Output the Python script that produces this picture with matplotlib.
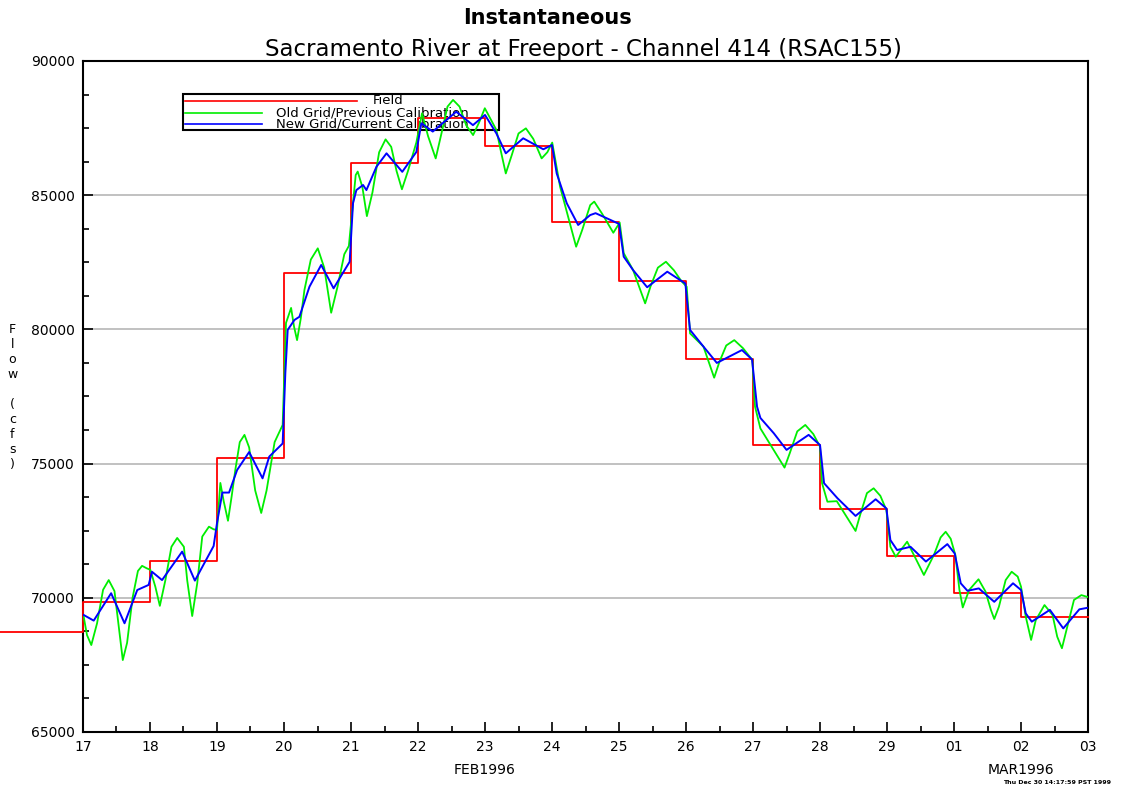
"""Sacramento River at Freeport - instantaneous flow, field vs. old/new calibration."""
import numpy as np
import matplotlib
matplotlib.use("Agg")
import matplotlib.pyplot as plt
from matplotlib.patches import Rectangle
from matplotlib.ticker import MultipleLocator

plt.rcParams["font.family"] = ["DejaVu Sans"]

# ---- Data: time in days since 17 FEB1996 00:00, flow in cfs ----
DAY_LABELS = ["17", "18", "19", "20", "21", "22", "23", "24", "25", "26",
              "27", "28", "29", "01", "02", "03"]

field_t = [-1.26, 0, 1, 2, 3, 4, 5, 6, 7, 8, 9, 10, 11, 12, 13, 14, 15]
field_q = [68730, 69850, 71380, 75200, 82110, 86210, 87860, 86830, 84010,
           81810, 78880, 75690, 73300, 71570, 70190, 69270, 69270]

old_t = [0.01, 0.06, 0.124, 0.21, 0.30, 0.384, 0.47, 0.53, 0.594, 0.658,
         0.74, 0.82, 0.882, 0.95, 1.006, 1.08, 1.147, 1.23, 1.32, 1.406,
         1.506, 1.555, 1.630, 1.705, 1.78, 1.880, 1.95, 2.00, 2.05, 2.10,
         2.164, 2.22, 2.273, 2.34, 2.41, 2.48, 2.57, 2.66, 2.74, 2.86,
         2.98, 3.03, 3.106, 3.15, 3.195, 3.25, 3.305, 3.40, 3.504, 3.60,
         3.704, 3.80, 3.90, 3.968, 4.07, 4.10, 4.17, 4.237, 4.32, 4.42,
         4.516, 4.60, 4.68, 4.76, 4.85, 4.975, 5.06, 5.15, 5.264, 5.35,
         5.44, 5.523, 5.62, 5.72, 5.822, 5.91, 5.997, 6.17, 6.24, 6.31,
         6.40, 6.50, 6.61, 6.72, 6.845, 6.93, 7.003, 7.12, 7.24, 7.36,
         7.45, 7.57, 7.63, 7.75, 7.915, 8.01, 8.07, 8.21, 8.39, 8.47,
         8.58, 8.70, 8.82, 8.93, 9.01, 9.06, 9.26, 9.42, 9.50, 9.60,
         9.72, 9.85, 9.99, 10.03, 10.11, 10.47, 10.55, 10.66, 10.78, 10.90,
         11.0, 11.03, 11.11, 11.25, 11.53, 11.60, 11.70, 11.80, 11.90, 11.99,
         12.05, 12.13, 12.30, 12.42, 12.55, 12.70, 12.80, 12.875, 12.95, 13.02,
         13.08, 13.13, 13.225, 13.365, 13.47, 13.55, 13.60, 13.67, 13.77, 13.86,
         13.95, 14.0, 14.07, 14.15, 14.22, 14.35, 14.47, 14.54, 14.61, 14.69,
         14.79, 14.90, 15.02]
old_q = [69300, 68610, 68240, 69050, 70300, 70660, 70250, 69000, 67680, 68320,
         70000, 71000, 71190, 71100, 71040, 70410, 69700, 70660, 71900, 72230,
         71900, 70660, 69320, 70540, 72280, 72650, 72550, 72530, 74280, 73600,
         72870, 73800, 74760, 75800, 76070, 75600, 74000, 73160, 74000, 75800,
         76440, 80240, 80800, 80100, 79600, 80400, 81470, 82600, 83020, 82300,
         80620, 81600, 82800, 83110, 85750, 85880, 85300, 84220, 85100, 86600,
         87080, 86800, 85900, 85220, 85900, 86960, 88050, 87200, 86370, 87300,
         88300, 88550, 88300, 87600, 87240, 87700, 88240, 87430, 86600, 85810,
         86500, 87300, 87490, 87100, 86370, 86600, 86960, 85320, 84200, 83080,
         83700, 84630, 84760, 84300, 83600, 83980, 82840, 82210, 80970, 81600,
         82300, 82520, 82200, 81800, 81590, 79850, 79360, 78200, 78800, 79400,
         79600, 79300, 78860, 77120, 76310, 74850, 75400, 76200, 76440, 76100,
         75630, 74270, 73580, 73600, 72490, 73100, 73900, 74080, 73800, 73270,
         71900, 71530, 72090, 71500, 70850, 71600, 72250, 72460, 72200, 71590,
         70300, 69640, 70290, 70690, 70230, 69550, 69210, 69670, 70660, 70970,
         70790, 70410, 69300, 68430, 69170, 69730, 69360, 68550, 68120, 68920,
         69920, 70100, 70010]

new_t = [0.01, 0.16, 0.42, 0.62, 0.81, 0.98, 1.03, 1.18, 1.48, 1.67,
         1.95, 2.00, 2.08, 2.18, 2.30, 2.48, 2.68, 2.78, 2.98, 3.02,
         3.055, 3.155, 3.23, 3.38, 3.555, 3.74, 3.98, 4.03, 4.08, 4.18,
         4.23, 4.38, 4.53, 4.765, 4.975, 5.05, 5.22, 5.57, 5.82, 6.0,
         6.17, 6.31, 6.57, 6.87, 7.0, 7.07, 7.22, 7.39, 7.57, 7.65,
         7.87, 8.0, 8.07, 8.21, 8.42, 8.72, 8.99, 9.06, 9.26, 9.46,
         9.835, 9.985, 10.06, 10.11, 10.31, 10.50, 10.83, 11.0, 11.06, 11.26,
         11.53, 11.83, 11.99, 12.05, 12.15, 12.35, 12.58, 12.90, 13.01, 13.10,
         13.20, 13.37, 13.60, 13.88, 14.0, 14.07, 14.16, 14.43, 14.63, 14.87,
         15.02]
new_q = [69360, 69150, 70170, 69050, 70290, 70480, 70970, 70660, 71720, 70640,
         71930, 72780, 73920, 73920, 74760, 75430, 74450, 75260, 75750, 78380,
         79980, 80350, 80470, 81590, 82400, 81530, 82520, 84700, 85190, 85380,
         85190, 86060, 86560, 85870, 86610, 87680, 87370, 88110, 87610, 87990,
         87300, 86560, 87120, 86710, 86870, 85810, 84700, 83890, 84260, 84330,
         84080, 83930, 82710, 82210, 81570, 82150, 81710, 79980, 79360, 78750,
         79230, 78880, 77120, 76700, 76130, 75510, 76070, 75690, 74270, 73710,
         73050, 73670, 73330, 72150, 71780, 71900, 71350, 72000, 71650, 70540,
         70260, 70350, 69850, 70540, 70290, 69420, 69110, 69550, 68860, 69570,
         69640]

fig = plt.figure(figsize=(11.26, 7.91), dpi=100)
ax = fig.add_axes([0.0737, 0.0746, 0.8926, 0.8483])

# grid lines (only interior ones)
for g in [70000, 75000, 80000, 85000]:
    ax.axhline(g, color="#b0b0b0", lw=1.1, zorder=1)

# hand-made legend, sits underneath the curves like the original
ax.add_patch(Rectangle((0.0995, 0.8972), 0.3145, 0.0536, transform=ax.transAxes,
                       facecolor="white", edgecolor="black", lw=1.5, zorder=2))
ax.plot([0.1015, 0.2726], [0.9404, 0.9404], transform=ax.transAxes, color="#ff0000", lw=1.2, zorder=2)
ax.plot([0.1015, 0.178], [0.9225, 0.9225], transform=ax.transAxes, color="#00ee00", lw=1.2, zorder=2)
ax.plot([0.1015, 0.178], [0.9061, 0.9061], transform=ax.transAxes, color="#0000ff", lw=1.2, zorder=2)
ax.text(0.3035, 0.9404, "Field", transform=ax.transAxes, ha="center", va="center", fontsize=9.5, zorder=2)
ax.text(0.192, 0.9225, "Old Grid/Previous Calibration", transform=ax.transAxes, ha="left", va="center",
        fontsize=9.5, zorder=2)
ax.text(0.192, 0.9061, "New Grid/Current Calibration", transform=ax.transAxes, ha="left", va="center",
        fontsize=9.5, zorder=2)

ax.step(field_t, field_q, where="post", color="#ff0000", lw=1.3, zorder=3, clip_on=False)
ax.plot(old_t, old_q, color="#00ee00", lw=1.3, zorder=4, solid_joinstyle="round")
ax.plot(new_t, new_q, color="#0000ff", lw=1.4, zorder=5, solid_joinstyle="round")

ax.set_xlim(0, 15)
ax.set_ylim(65000, 90000)
ax.set_xticks(range(16))
ax.set_xticklabels(DAY_LABELS)
ax.xaxis.set_minor_locator(MultipleLocator(0.5))
ax.set_yticks(range(65000, 90001, 5000))
ax.yaxis.set_minor_locator(MultipleLocator(1250))
ax.tick_params(which="both", direction="in", labelsize=10, width=1.2)
ax.tick_params(which="major", length=7, pad=6)
ax.tick_params(which="minor", length=4)
for s in ax.spines.values():
    s.set_linewidth(1.5)

xt = ax.get_xaxis_transform()
ax.text(6, -0.057, "FEB1996", transform=xt, ha="center", va="center", fontsize=10)
ax.text(14, -0.057, "MAR1996", transform=xt, ha="center", va="center", fontsize=10)

fig.text(0.486, 0.977, "Instantaneous", ha="center", va="center", fontsize=15, fontweight="bold")
fig.text(0.518, 0.938, "Sacramento River at Freeport - Channel 414 (RSAC155)", ha="center", va="center",
         fontsize=16.5)
fig.text(0.011, 0.4975, "F\nl\no\nw\n\n(\nc\nf\ns\n)", ha="center", va="center", fontsize=9,
         linespacing=1.2)
fig.text(0.987, 0.008, "Thu Dec 30 14:17:59 PST 1999", ha="right", va="bottom", fontsize=4.5,
         fontweight="bold")

fig.savefig("out.png", dpi=100)
